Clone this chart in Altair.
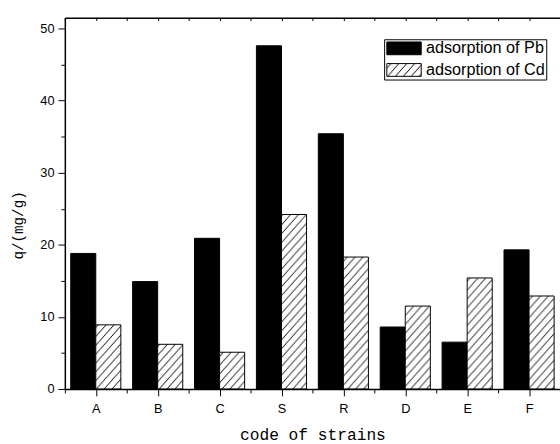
import altair as alt
import pandas as pd
import jinja2

# ---------------- data ----------------
codes = ["A", "B", "C", "S", "R", "D", "E", "F"]
pb_values = [18.8, 14.9, 20.9, 47.6, 35.4, 8.6, 6.5, 19.3]
cd_values = [8.9, 6.2, 5.1, 24.2, 18.3, 11.5, 15.4, 12.9]
series = ["adsorption of Pb", "adsorption of Cd"]
y_ticks = [0, 5, 10, 15, 20, 25, 30, 35, 40, 45, 50]

df = pd.DataFrame({
    "code": codes * 2,
    "series": [series[0]] * len(codes) + [series[1]] * len(codes),
    "q": pb_values + cd_values,
})
slots = pd.DataFrame({"code": codes, "slot": list(range(len(codes)))})

x_tick_values = [k / 2 for k in range(2 * len(codes) + 1)]
codes_js = "[" + ",".join("'%s'" % c for c in codes) + "]"

W, H = 504, 378
FONT = "Liberation Sans"
TFONT = "Liberation Mono"

# ---------------- bars ----------------
bars = alt.Chart(df).mark_bar(stroke="black", strokeWidth=1).encode(
    x=alt.X("code:N", sort=codes,
            scale=alt.Scale(paddingInner=0.19, paddingOuter=0.095), axis=None),
    xOffset=alt.XOffset("series:N", sort=series,
                        scale=alt.Scale(paddingInner=0, paddingOuter=0)),
    y=alt.Y("q:Q", title="q/(mg/g)",
            scale=alt.Scale(domain=[0, 51.5], nice=False),
            axis=alt.Axis(values=y_ticks,
                          labelExpr="datum.value % 10 === 0 ? datum.label : ''",
                          tickSize={"condition": {"test": "datum.value % 10 === 0", "value": 7}, "value": 4},
                          tickColor="black", tickWidth=1,
                          domainColor="black", domainWidth=1.5,
                          grid=False, labelOverlap=False, labelFlush=False,
                          labelFont=FONT, labelFontSize=13, labelColor="black", labelPadding=4,
                          titleFont=TFONT, titleFontSize=14.5, titleFontWeight="normal",
                          titleColor="black", titleAngle=270, titleAlign="center",
                          titleBaseline="middle", titleX=-47, titleY=211, zindex=1)),
    fill=alt.Fill("series:N", sort=series,
                  scale=alt.Scale(domain=series, range=["black", "url(#hatch)"]),
                  legend=alt.Legend(title=None, orient="none", legendX=325, legendY=22,
                                    direction="vertical", strokeColor="black",
                                    fillColor="white", padding=1,
                                    symbolType="M-1,-1H4.385V1H-1Z", symbolSize=169,
                                    symbolStrokeColor="black", symbolStrokeWidth=1,
                                    symbolOpacity=1,
                                    labelFont=FONT, labelFontSize=16.5, labelColor="black",
                                    labelOffset=25, rowPadding=4,
                                    labelExpr="datum.label === 'adsorption of Cd' ? '\u00a0' + datum.label : datum.label")),
)

# ---------------- axis layers (shared numeric slot scale) ----------------
def slot_layer(axis):
    return alt.Chart(slots).transform_calculate(pos="datum.slot + 0.5").mark_point(opacity=0).encode(
        x=alt.X("pos:Q", scale=alt.Scale(domain=[0, len(codes)], nice=False, zero=False), axis=axis)
    )

bottom_axis = slot_layer(alt.Axis(
    orient="bottom", values=x_tick_values, title="code of strains",
    labelExpr="(datum.value * 2) % 2 === 1 ? " + codes_js + "[floor(datum.value)] : ''",
    tickSize={"condition": {"test": "(datum.value * 2) % 2 === 1", "value": 7}, "value": 4},
    tickColor="black", tickWidth=1, domainColor="black", domainWidth=1.5,
    grid=False, labelOverlap=False, labelFlush=False,
    labelFont=FONT, labelFontSize=13, labelColor="black", labelPadding=7,
    titleFont=TFONT, titleFontSize=16.5, titleFontWeight="normal", titleColor="black",
    titleAlign="center", titleBaseline="alphabetic", titleX=W / 2, titleY=51, zindex=1))

top_frame = slot_layer(alt.Axis(
    orient="top", title=None, labels=False, ticks=False, grid=False,
    domainColor="black", domainWidth=1.5, zindex=1))

top_ticks = slot_layer(alt.Axis(
    orient="top", title=None, labels=False, domain=False, grid=False,
    values=x_tick_values, tickSize=3, tickColor="black", tickWidth=1,
    offset=-3, zindex=1))

chart = alt.layer(bars, bottom_axis, top_frame, top_ticks).resolve_scale(
    x="independent").resolve_axis(x="independent").properties(
    width=W, height=H,
    padding={"left": 66, "top": 14, "right": 0, "bottom": 52},
    autosize=alt.AutoSizeParams(type="none"),
    background="white",
).configure_view(stroke=None)

TEMPLATE = jinja2.Template("""<!DOCTYPE html>
<html>
<head>
<meta charset="utf-8">
<style>
html, body { margin: 0; padding: 0; overflow: hidden; background: white; }
#{{ output_div }}.vega-embed { width: 100%; display: flex; }
</style>
<script type="text/javascript" src="{{ base_url }}/vega@{{ vega_version }}"></script>
<script type="text/javascript" src="{{ base_url }}/vega-lite@{{ vegalite_version }}"></script>
<script type="text/javascript" src="{{ base_url }}/vega-embed@{{ vegaembed_version }}"></script>
</head>
<body>
<svg width="0" height="0" style="position:absolute;left:0;top:0">
<defs>
<pattern id="hatch" patternUnits="userSpaceOnUse" width="8" height="9">
<rect width="8" height="9" fill="white"/>
<path d="M-4,4.5 L4,-4.5 M0,9 L8,0 M4,13.5 L12,4.5" stroke="black" stroke-width="1" fill="none"/>
</pattern>
</defs>
</svg>
<div id="{{ output_div }}"></div>
<script type="text/javascript">
vegaEmbed("#{{ output_div }}", {{ spec }}, {{ embed_options }}).catch(function (err) {
  document.getElementById("{{ output_div }}").innerText = String(err);
});
</script>
</body>
</html>
""")

chart.save("out.html", embed_options={"renderer": "svg", "actions": False}, template=TEMPLATE)
